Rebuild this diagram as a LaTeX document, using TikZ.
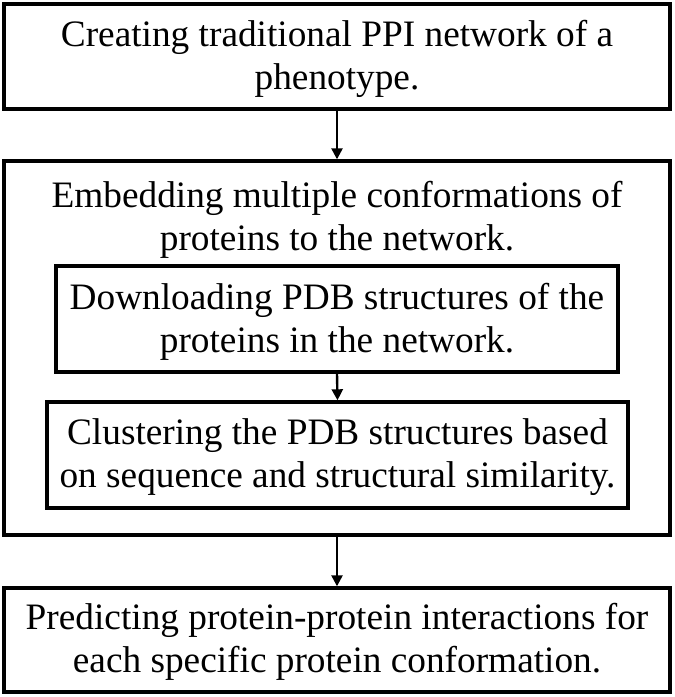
\documentclass[tikz,border=0pt]{standalone}
\usepackage{fontspec}
\setmainfont{Liberation Serif}
\usetikzlibrary{arrows.meta}
\begin{document}
\begin{tikzpicture}[x=1pt,y=-1pt,
  box/.style={draw=black,line width=3.4pt,inner sep=0pt,minimum width=#1},
  txt/.style={align=center,font=\fontsize{37.3}{43}\selectfont,inner sep=0pt},
  conn/.style={line width=2.4pt,-{Triangle[length=11pt,width=11pt]}}]
\useasboundingbox (0,0) rectangle (675,697);
\node[box=666,minimum height=105] (b1) at (337,56.5) {};
\node[txt] (t1) at (337,59) {Creating traditional PPI network of a\\phenotype.};
\node[box=666,minimum height=374] (b2) at (337,348) {};
\node[txt] (t2) at (337,220) {Embedding multiple conformations of\\proteins to the network.};
\node[box=562,minimum height=106] (i1) at (337,319) {};
\node[txt] (ti1) at (337,322) {Downloading PDB structures of the\\proteins in the network.};
\node[box=581,minimum height=106] (i2) at (337.5,455) {};
\node[txt] (ti2) at (337.5,457) {Clustering the PDB structures based\\on sequence and structural similarity.};
\node[box=666,minimum height=104] (b3) at (337,640) {};
\node[txt] (t3) at (337,642) {Predicting protein-protein interactions for\\each specific protein conformation.};
\draw[conn] (b1.south) -- (b2.north);
\draw[conn] (i1.south) -- (i2.north);
\draw[conn] (b2.south) -- (b3.north);
\end{tikzpicture}
\end{document}
